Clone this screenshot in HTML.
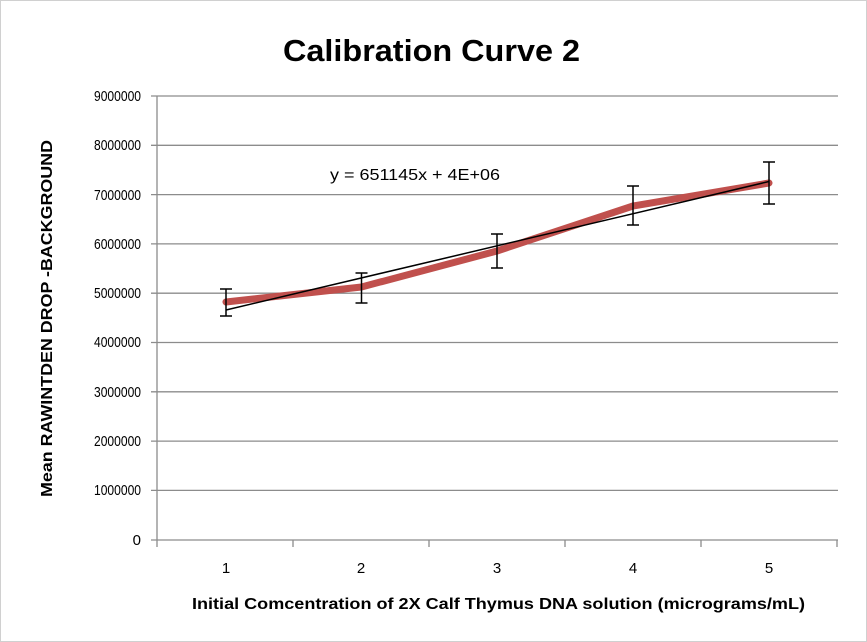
<!DOCTYPE html>
<html><head><style>
body{margin:0;background:#fff;}
svg{display:block;font-family:"Liberation Sans",sans-serif;}
</style></head><body>
<svg width="867" height="642" viewBox="0 0 867 642">
<rect x="0.5" y="0.5" width="866" height="641" fill="#fff" stroke="#d0d0d0"/>
<text x="283" y="61" font-size="31" font-weight="bold" fill="#000" textLength="297" lengthAdjust="spacingAndGlyphs">Calibration Curve 2</text>
<g stroke="#8c8c8c" stroke-width="1.3">
<line x1="151" y1="96" x2="838" y2="96"/>
<line x1="151" y1="145.3" x2="838" y2="145.3"/>
<line x1="151" y1="194.6" x2="838" y2="194.6"/>
<line x1="151" y1="243.9" x2="838" y2="243.9"/>
<line x1="151" y1="293.2" x2="838" y2="293.2"/>
<line x1="151" y1="342.5" x2="838" y2="342.5"/>
<line x1="151" y1="391.8" x2="838" y2="391.8"/>
<line x1="151" y1="441.1" x2="838" y2="441.1"/>
<line x1="151" y1="490.4" x2="838" y2="490.4"/>
<line x1="151" y1="540" x2="838" y2="540"/>
<line x1="157" y1="96" x2="157" y2="540"/>
<line x1="157" y1="540" x2="157" y2="547"/>
<line x1="293" y1="540" x2="293" y2="547"/>
<line x1="429" y1="540" x2="429" y2="547"/>
<line x1="565" y1="540" x2="565" y2="547"/>
<line x1="701" y1="540" x2="701" y2="547"/>
<line x1="837" y1="540" x2="837" y2="547"/>
</g>
<g font-size="15" text-anchor="end" fill="#000">
<text x="141" y="101" textLength="47" lengthAdjust="spacingAndGlyphs">9000000</text>
<text x="141" y="150" textLength="47" lengthAdjust="spacingAndGlyphs">8000000</text>
<text x="141" y="200" textLength="47" lengthAdjust="spacingAndGlyphs">7000000</text>
<text x="141" y="249" textLength="47" lengthAdjust="spacingAndGlyphs">6000000</text>
<text x="141" y="298" textLength="47" lengthAdjust="spacingAndGlyphs">5000000</text>
<text x="141" y="347" textLength="47" lengthAdjust="spacingAndGlyphs">4000000</text>
<text x="141" y="397" textLength="47" lengthAdjust="spacingAndGlyphs">3000000</text>
<text x="141" y="446" textLength="47" lengthAdjust="spacingAndGlyphs">2000000</text>
<text x="141" y="495" textLength="47" lengthAdjust="spacingAndGlyphs">1000000</text>
<text x="141" y="545">0</text>
</g>
<g font-size="15" text-anchor="middle" fill="#000">
<text x="226" y="573">1</text>
<text x="361" y="573">2</text>
<text x="497" y="573">3</text>
<text x="633" y="573">4</text>
<text x="769" y="573">5</text>
</g>
<text x="192" y="609" font-size="15.5" font-weight="bold" textLength="613" lengthAdjust="spacingAndGlyphs">Initial Comcentration of 2X Calf Thymus DNA solution (micrograms/mL)</text>
<text transform="translate(52,497) rotate(-90)" font-size="15.5" font-weight="bold" textLength="357" lengthAdjust="spacingAndGlyphs">Mean RAWINTDEN DROP -BACKGROUND</text>
<polyline points="226,302 361.5,287 497,251 633,206 769,183" fill="none" stroke="#c0504d" stroke-width="7" stroke-linejoin="round" stroke-linecap="round"/>
<line x1="226" y1="310" x2="769" y2="181.5" stroke="#000" stroke-width="1.5"/>
<g stroke="#000" stroke-width="1.5">
<line x1="226" y1="289" x2="226" y2="316"/><line x1="220" y1="289" x2="232" y2="289"/><line x1="220" y1="316" x2="232" y2="316"/>
<line x1="361.5" y1="273" x2="361.5" y2="303"/><line x1="355.5" y1="273" x2="367.5" y2="273"/><line x1="355.5" y1="303" x2="367.5" y2="303"/>
<line x1="497" y1="234" x2="497" y2="268"/><line x1="491" y1="234" x2="503" y2="234"/><line x1="491" y1="268" x2="503" y2="268"/>
<line x1="633" y1="186" x2="633" y2="225"/><line x1="627" y1="186" x2="639" y2="186"/><line x1="627" y1="225" x2="639" y2="225"/>
<line x1="769" y1="162" x2="769" y2="204"/><line x1="763" y1="162" x2="775" y2="162"/><line x1="763" y1="204" x2="775" y2="204"/>
</g>
<text x="330" y="180" font-size="15.5" fill="#000" textLength="170" lengthAdjust="spacingAndGlyphs">y = 651145x + 4E+06</text>
</svg>
</body></html>
